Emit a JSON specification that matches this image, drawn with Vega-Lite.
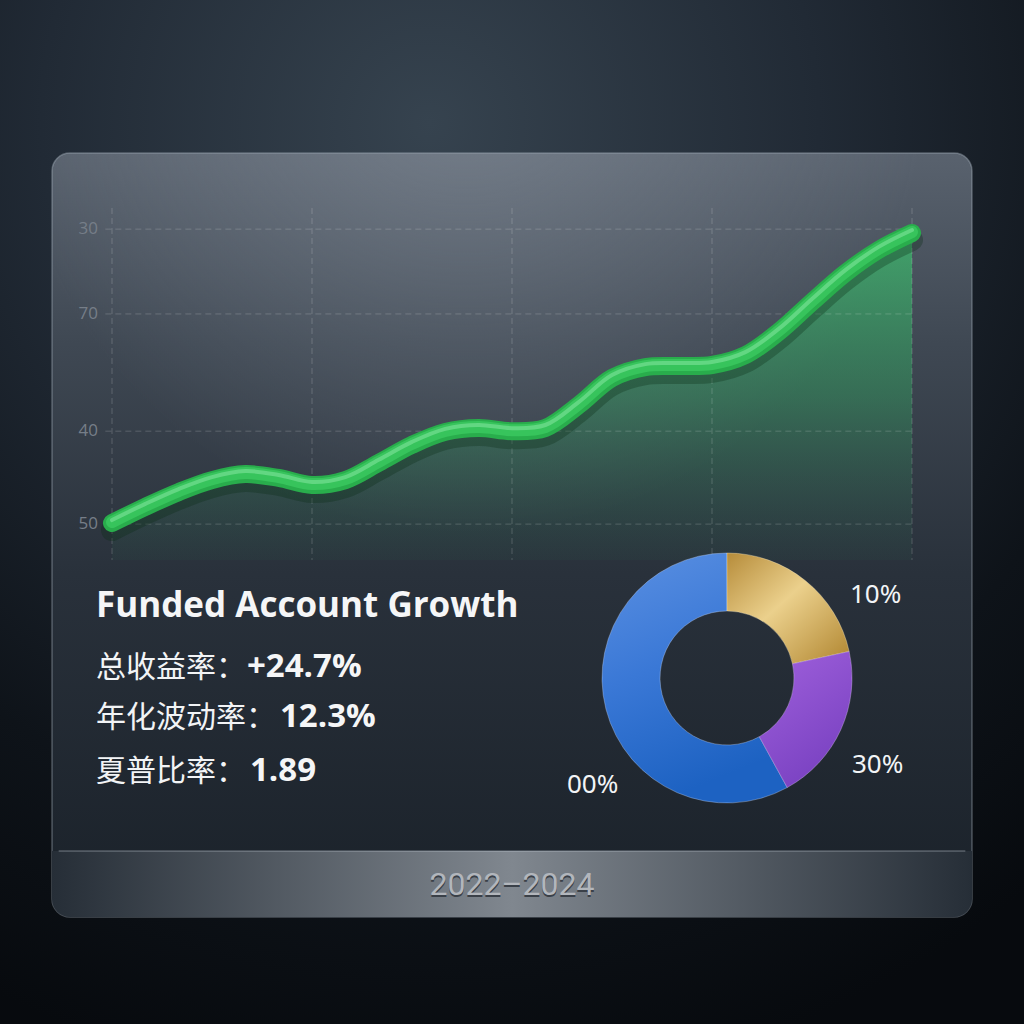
{
  "$schema": "https://vega.github.io/schema/vega-lite/v6.json",
  "width": 800,
  "height": 352,
  "autosize": {"type": "none"},
  "padding": {"left": 112, "top": 208, "right": 112, "bottom": 464},
  "background": "#0b1015",
  "config": {"view": {"stroke": null}},
  "datasets": {
    "growth": [
      {"month": 0, "value": 10.5}, {"month": 1, "value": 15.1}, {"month": 2, "value": 19.3},
      {"month": 3, "value": 22.7}, {"month": 4, "value": 24.4}, {"month": 5, "value": 23.3},
      {"month": 6, "value": 21.3}, {"month": 7, "value": 22.7}, {"month": 8, "value": 27.6},
      {"month": 9, "value": 32.7}, {"month": 10, "value": 36.4}, {"month": 11, "value": 37.5},
      {"month": 12, "value": 36.6}, {"month": 13, "value": 37.5}, {"month": 14, "value": 44.0},
      {"month": 15, "value": 51.7}, {"month": 16, "value": 54.8}, {"month": 17, "value": 55.1},
      {"month": 18, "value": 55.4}, {"month": 19, "value": 58.2}, {"month": 20, "value": 64.8},
      {"month": 21, "value": 73.3}, {"month": 22, "value": 81.5}, {"month": 23, "value": 88.1},
      {"month": 24, "value": 92.9}
    ],
    "donut": [
      {"seg": "gold", "from": 0, "to": 21.6, "label": "10%"},
      {"seg": "purple", "from": 21.6, "to": 42, "label": "30%"},
      {"seg": "blue", "from": 42, "to": 100, "label": "00%"}
    ],
    "texts": [
      {"key": "title", "text": "Funded Account Growth"},
      {"key": "l1", "text": "总收益率："},
      {"key": "v1", "text": "+24.7%"},
      {"key": "l2", "text": "年化波动率："},
      {"key": "v2", "text": "12.3%"},
      {"key": "l3", "text": "夏普比率："},
      {"key": "v3", "text": "1.89"},
      {"key": "period", "text": "2022–2024"}
    ],
    "vgrid": [{"month": 0}, {"month": 6}, {"month": 12}, {"month": 18}, {"month": 24}],
    "hgrid": [{"value": 10.2, "label": "50"}, {"value": 36.6, "label": "40"}, {"value": 69.9, "label": "70"}, {"value": 94.0, "label": "30"}],
    "panel": [{"part": "panel"}]
  },
  "layer": [
    {
      "data": {"name": "panel"},
      "mark": {"type": "rect", "fill": {"gradient": "radial", "x1": 0.42, "y1": 0.12, "r1": 0, "x2": 0.42, "y2": 0.12, "r2": 0.95,
        "stops": [{"offset": 0, "color": "#36434f"}, {"offset": 0.4, "color": "#212a35"}, {"offset": 0.75, "color": "#0e1319"}, {"offset": 1, "color": "#070a0e"}]}},
      "encoding": {
        "x": {"datum": -3.36, "type": "quantitative", "scale": {"domain": [0, 24], "nice": false, "zero": false}, "axis": null},
        "x2": {"datum": 27.36},
        "y": {"datum": 159.1, "type": "quantitative", "scale": {"domain": [0, 100], "nice": false, "zero": false}, "axis": null},
        "y2": {"datum": -131.9}
      }
    },
    {
      "data": {"name": "panel"},
      "mark": {"type": "rect", "cornerRadius": 18, "stroke": "rgba(190,200,212,0.35)", "strokeWidth": 1.5,
        "fill": {"gradient": "linear", "x1": 0, "y1": 0, "x2": 0, "y2": 1,
        "stops": [{"offset": 0, "color": "#59626e"}, {"offset": 0.25, "color": "#3f4853"}, {"offset": 0.55, "color": "#29313b"}, {"offset": 1, "color": "#1a2129"}]}},
      "encoding": {
        "x": {"datum": -1.8, "type": "quantitative", "scale": {"domain": [0, 24], "nice": false, "zero": false}, "axis": null},
        "x2": {"datum": 25.8},
        "y": {"datum": 115.63, "type": "quantitative", "scale": {"domain": [0, 100], "nice": false, "zero": false}, "axis": null},
        "y2": {"datum": -101.42}
      }
    },
    {
      "data": {"name": "panel"},
      "mark": {"type": "rect", "cornerRadius": 18,
        "fill": {"gradient": "radial", "x1": 0.45, "y1": 0.0, "r1": 0, "x2": 0.45, "y2": 0.0, "r2": 0.5,
        "stops": [{"offset": 0, "color": "rgba(150,160,172,0.45)"}, {"offset": 1, "color": "rgba(150,160,172,0)"}]}},
      "encoding": {
        "x": {"datum": -1.8, "type": "quantitative", "scale": {"domain": [0, 24], "nice": false, "zero": false}, "axis": null},
        "x2": {"datum": 25.8},
        "y": {"datum": 115.63, "type": "quantitative", "scale": {"domain": [0, 100], "nice": false, "zero": false}, "axis": null},
        "y2": {"datum": -101.42}
      }
    },
    {
      "data": {"name": "panel"},
      "mark": {"type": "rect", "cornerRadiusBottomLeft": 18, "cornerRadiusBottomRight": 18,
        "fill": {"gradient": "linear", "x1": 0, "y1": 0, "x2": 1, "y2": 0,
        "stops": [{"offset": 0, "color": "#262e37"}, {"offset": 0.5, "color": "#80878f"}, {"offset": 1, "color": "#262e37"}]}},
      "encoding": {
        "x": {"datum": -1.8, "type": "quantitative", "scale": {"domain": [0, 24], "nice": false, "zero": false}, "axis": null},
        "x2": {"datum": 25.8},
        "y": {"datum": -82.67, "type": "quantitative", "scale": {"domain": [0, 100], "nice": false, "zero": false}, "axis": null},
        "y2": {"datum": -101.42}
      }
    },
    {
      "data": {"name": "panel"},
      "mark": {"type": "rule", "stroke": "rgba(220,228,236,0.3)", "strokeWidth": 1.5},
      "encoding": {
        "x": {"datum": -1.6, "type": "quantitative", "scale": {"domain": [0, 24], "nice": false, "zero": false}, "axis": null},
        "x2": {"datum": 25.6},
        "y": {"datum": -82.67, "type": "quantitative", "scale": {"domain": [0, 100], "nice": false, "zero": false}, "axis": null}
      }
    },
    {
      "data": {"name": "growth"},
      "mark": {"type": "area", "interpolate": "catmull-rom",
        "fill": {"gradient": "linear", "x1": 0, "y1": 0, "x2": 0, "y2": 1,
        "stops": [{"offset": 0, "color": "rgba(60,195,110,0.7)"}, {"offset": 0.5, "color": "rgba(50,160,95,0.45)"}, {"offset": 1, "color": "rgba(40,110,78,0.08)"}]}},
      "encoding": {
        "x": {"field": "month", "type": "quantitative", "scale": {"domain": [0, 24], "nice": false, "zero": false}, "axis": null},
        "y": {"field": "value", "type": "quantitative", "scale": {"domain": [0, 100], "nice": false, "zero": false}, "axis": null}
      }
    },
    {
      "data": {"name": "hgrid"},
      "mark": {"type": "rule", "stroke": "rgba(255,255,255,0.18)", "strokeWidth": 1, "strokeDash": [6, 4]},
      "encoding": {
        "x": {"datum": -0.2, "type": "quantitative", "scale": {"domain": [0, 24], "nice": false, "zero": false}, "axis": null},
        "x2": {"datum": 24},
        "y": {"field": "value", "type": "quantitative", "scale": {"domain": [0, 100], "nice": false, "zero": false}, "axis": null}
      }
    },
    {
      "data": {"name": "hgrid"},
      "mark": {"type": "text", "align": "right", "baseline": "middle", "font": "Open Sans", "fontSize": 17, "color": "#767e88"},
      "encoding": {
        "text": {"field": "label"},
        "x": {"datum": -0.42, "type": "quantitative", "scale": {"domain": [0, 24], "nice": false, "zero": false}, "axis": null},
        "y": {"field": "value", "type": "quantitative", "scale": {"domain": [0, 100], "nice": false, "zero": false}, "axis": null}
      }
    },
    {
      "data": {"name": "vgrid"},
      "mark": {"type": "rule", "stroke": "rgba(255,255,255,0.18)", "strokeWidth": 1, "strokeDash": [6, 4]},
      "encoding": {
        "x": {"field": "month", "type": "quantitative", "scale": {"domain": [0, 24], "nice": false, "zero": false}, "axis": null},
        "y": {"datum": 100, "type": "quantitative", "scale": {"domain": [0, 100], "nice": false, "zero": false}, "axis": null},
        "y2": {"datum": 0}
      }
    },
    {
      "data": {"name": "growth"},
      "mark": {"type": "line", "interpolate": "catmull-rom", "stroke": "#0a2a15", "strokeOpacity": 0.3, "strokeWidth": 22, "strokeCap": "round", "yOffset": 7},
      "encoding": {
        "x": {"field": "month", "type": "quantitative", "scale": {"domain": [0, 24], "nice": false, "zero": false}, "axis": null},
        "y": {"field": "value", "type": "quantitative", "scale": {"domain": [0, 100], "nice": false, "zero": false}, "axis": null}
      }
    },
    {
      "data": {"name": "growth"},
      "mark": {"type": "line", "interpolate": "catmull-rom", "stroke": "#29ad4c", "strokeWidth": 18, "strokeCap": "round"},
      "encoding": {
        "x": {"field": "month", "type": "quantitative", "scale": {"domain": [0, 24], "nice": false, "zero": false}, "axis": null},
        "y": {"field": "value", "type": "quantitative", "scale": {"domain": [0, 100], "nice": false, "zero": false}, "axis": null}
      }
    },
    {
      "data": {"name": "growth"},
      "mark": {"type": "line", "interpolate": "catmull-rom", "stroke": "#37c45c", "strokeWidth": 12, "strokeCap": "round", "yOffset": -1},
      "encoding": {
        "x": {"field": "month", "type": "quantitative", "scale": {"domain": [0, 24], "nice": false, "zero": false}, "axis": null},
        "y": {"field": "value", "type": "quantitative", "scale": {"domain": [0, 100], "nice": false, "zero": false}, "axis": null}
      }
    },
    {
      "data": {"name": "growth"},
      "mark": {"type": "line", "interpolate": "catmull-rom", "stroke": "#8eeaa8", "strokeOpacity": 0.5, "strokeWidth": 4, "strokeCap": "round", "yOffset": -3},
      "encoding": {
        "x": {"field": "month", "type": "quantitative", "scale": {"domain": [0, 24], "nice": false, "zero": false}, "axis": null},
        "y": {"field": "value", "type": "quantitative", "scale": {"domain": [0, 100], "nice": false, "zero": false}, "axis": null}
      }
    },
    {
      "data": {"name": "donut"},
      "transform": [{"filter": "datum.seg === 'blue'"}],
      "mark": {"type": "arc", "outerRadius": 125, "innerRadius": 67, "stroke": "rgba(200,220,255,0.35)", "strokeWidth": 1,
        "fill": {"gradient": "linear", "x1": 0, "y1": 0, "x2": 0.3, "y2": 1,
        "stops": [{"offset": 0, "color": "#5b90e2"}, {"offset": 0.5, "color": "#3a78d6"}, {"offset": 1, "color": "#1d62c2"}]}},
      "encoding": {
        "theta": {"field": "from", "type": "quantitative", "scale": {"domain": [0, 100], "range": [0, 6.283185]}},
        "theta2": {"field": "to"},
        "x": {"datum": 18.45, "type": "quantitative", "scale": {"domain": [0, 24], "nice": false, "zero": false}, "axis": null},
        "y": {"datum": -33.52, "type": "quantitative", "scale": {"domain": [0, 100], "nice": false, "zero": false}, "axis": null}
      }
    },
    {
      "data": {"name": "donut"},
      "transform": [{"filter": "datum.seg === 'gold'"}],
      "mark": {"type": "arc", "outerRadius": 125, "innerRadius": 67, "stroke": "rgba(255,240,200,0.35)", "strokeWidth": 1,
        "fill": {"gradient": "linear", "x1": 0, "y1": 0, "x2": 1, "y2": 1,
        "stops": [{"offset": 0, "color": "#b68c3a"}, {"offset": 0.45, "color": "#ebd08c"}, {"offset": 1, "color": "#b0852f"}]}},
      "encoding": {
        "theta": {"field": "from", "type": "quantitative", "scale": {"domain": [0, 100], "range": [0, 6.283185]}},
        "theta2": {"field": "to"},
        "x": {"datum": 18.45, "type": "quantitative", "scale": {"domain": [0, 24], "nice": false, "zero": false}, "axis": null},
        "y": {"datum": -33.52, "type": "quantitative", "scale": {"domain": [0, 100], "nice": false, "zero": false}, "axis": null}
      }
    },
    {
      "data": {"name": "donut"},
      "transform": [{"filter": "datum.seg === 'purple'"}],
      "mark": {"type": "arc", "outerRadius": 125, "innerRadius": 67, "stroke": "rgba(230,200,255,0.35)", "strokeWidth": 1,
        "fill": {"gradient": "linear", "x1": 0, "y1": 0, "x2": 0.5, "y2": 1,
        "stops": [{"offset": 0, "color": "#a061dc"}, {"offset": 1, "color": "#7a42c2"}]}},
      "encoding": {
        "theta": {"field": "from", "type": "quantitative", "scale": {"domain": [0, 100], "range": [0, 6.283185]}},
        "theta2": {"field": "to"},
        "x": {"datum": 18.45, "type": "quantitative", "scale": {"domain": [0, 24], "nice": false, "zero": false}, "axis": null},
        "y": {"datum": -33.52, "type": "quantitative", "scale": {"domain": [0, 100], "nice": false, "zero": false}, "axis": null}
      }
    },
    {
      "data": {"name": "donut"},
      "transform": [{"filter": "datum.seg === 'gold'"}],
      "mark": {"type": "text", "align": "left", "baseline": "alphabetic", "font": "Noto Sans", "fontSize": 26, "color": "#f2f4f6"},
      "encoding": {
        "text": {"field": "label"},
        "x": {"datum": 22.14, "type": "quantitative", "scale": {"domain": [0, 24], "nice": false, "zero": false}, "axis": null},
        "y": {"datum": -12.22, "type": "quantitative", "scale": {"domain": [0, 100], "nice": false, "zero": false}, "axis": null}
      }
    },
    {
      "data": {"name": "donut"},
      "transform": [{"filter": "datum.seg === 'purple'"}],
      "mark": {"type": "text", "align": "left", "baseline": "alphabetic", "font": "Noto Sans", "fontSize": 26, "color": "#f2f4f6"},
      "encoding": {
        "text": {"field": "label"},
        "x": {"datum": 22.2, "type": "quantitative", "scale": {"domain": [0, 24], "nice": false, "zero": false}, "axis": null},
        "y": {"datum": -60.5, "type": "quantitative", "scale": {"domain": [0, 100], "nice": false, "zero": false}, "axis": null}
      }
    },
    {
      "data": {"name": "donut"},
      "transform": [{"filter": "datum.seg === 'blue'"}],
      "mark": {"type": "text", "align": "left", "baseline": "alphabetic", "font": "Noto Sans", "fontSize": 26, "color": "#f2f4f6"},
      "encoding": {
        "text": {"field": "label"},
        "x": {"datum": 13.65, "type": "quantitative", "scale": {"domain": [0, 24], "nice": false, "zero": false}, "axis": null},
        "y": {"datum": -66.19, "type": "quantitative", "scale": {"domain": [0, 100], "nice": false, "zero": false}, "axis": null}
      }
    },
    {
      "data": {"name": "texts"},
      "transform": [{"filter": "datum.key === 'title'"}],
      "mark": {"type": "text", "align": "left", "baseline": "alphabetic", "font": "Open Sans", "fontWeight": "bold", "fontSize": 35, "color": "#f5f6f7"},
      "encoding": {
        "text": {"field": "text"},
        "x": {"datum": -0.48, "type": "quantitative", "scale": {"domain": [0, 24], "nice": false, "zero": false}, "axis": null},
        "y": {"datum": -16.19, "type": "quantitative", "scale": {"domain": [0, 100], "nice": false, "zero": false}, "axis": null}
      }
    },
    {
      "data": {"name": "texts"},
      "transform": [{"filter": "datum.key === 'l1'"}],
      "mark": {"type": "text", "align": "left", "baseline": "alphabetic", "font": "Noto Sans CJK SC", "fontSize": 30, "color": "#f2f4f6"},
      "encoding": {
        "text": {"field": "text"},
        "x": {"datum": -0.48, "type": "quantitative", "scale": {"domain": [0, 24], "nice": false, "zero": false}, "axis": null},
        "y": {"datum": -33.24, "type": "quantitative", "scale": {"domain": [0, 100], "nice": false, "zero": false}, "axis": null}
      }
    },
    {
      "data": {"name": "texts"},
      "transform": [{"filter": "datum.key === 'v1'"}],
      "mark": {"type": "text", "align": "left", "baseline": "alphabetic", "font": "Open Sans", "fontWeight": "bold", "fontSize": 33, "color": "#f5f6f7"},
      "encoding": {
        "text": {"field": "text"},
        "x": {"datum": 4.05, "type": "quantitative", "scale": {"domain": [0, 24], "nice": false, "zero": false}, "axis": null},
        "y": {"datum": -33.24, "type": "quantitative", "scale": {"domain": [0, 100], "nice": false, "zero": false}, "axis": null}
      }
    },
    {
      "data": {"name": "texts"},
      "transform": [{"filter": "datum.key === 'l2'"}],
      "mark": {"type": "text", "align": "left", "baseline": "alphabetic", "font": "Noto Sans CJK SC", "fontSize": 30, "color": "#f2f4f6"},
      "encoding": {
        "text": {"field": "text"},
        "x": {"datum": -0.48, "type": "quantitative", "scale": {"domain": [0, 24], "nice": false, "zero": false}, "axis": null},
        "y": {"datum": -47.44, "type": "quantitative", "scale": {"domain": [0, 100], "nice": false, "zero": false}, "axis": null}
      }
    },
    {
      "data": {"name": "texts"},
      "transform": [{"filter": "datum.key === 'v2'"}],
      "mark": {"type": "text", "align": "left", "baseline": "alphabetic", "font": "Open Sans", "fontWeight": "bold", "fontSize": 33, "color": "#f5f6f7"},
      "encoding": {
        "text": {"field": "text"},
        "x": {"datum": 5.04, "type": "quantitative", "scale": {"domain": [0, 24], "nice": false, "zero": false}, "axis": null},
        "y": {"datum": -47.44, "type": "quantitative", "scale": {"domain": [0, 100], "nice": false, "zero": false}, "axis": null}
      }
    },
    {
      "data": {"name": "texts"},
      "transform": [{"filter": "datum.key === 'l3'"}],
      "mark": {"type": "text", "align": "left", "baseline": "alphabetic", "font": "Noto Sans CJK SC", "fontSize": 30, "color": "#f2f4f6"},
      "encoding": {
        "text": {"field": "text"},
        "x": {"datum": -0.48, "type": "quantitative", "scale": {"domain": [0, 24], "nice": false, "zero": false}, "axis": null},
        "y": {"datum": -62.78, "type": "quantitative", "scale": {"domain": [0, 100], "nice": false, "zero": false}, "axis": null}
      }
    },
    {
      "data": {"name": "texts"},
      "transform": [{"filter": "datum.key === 'v3'"}],
      "mark": {"type": "text", "align": "left", "baseline": "alphabetic", "font": "Open Sans", "fontWeight": "bold", "fontSize": 33, "color": "#f5f6f7"},
      "encoding": {
        "text": {"field": "text"},
        "x": {"datum": 4.14, "type": "quantitative", "scale": {"domain": [0, 24], "nice": false, "zero": false}, "axis": null},
        "y": {"datum": -62.78, "type": "quantitative", "scale": {"domain": [0, 100], "nice": false, "zero": false}, "axis": null}
      }
    },
    {
      "data": {"name": "texts"},
      "transform": [{"filter": "datum.key === 'period'"}],
      "mark": {"type": "text", "align": "center", "baseline": "alphabetic", "font": "Roboto", "fontSize": 32, "color": "#3a4048", "yOffset": 2},
      "encoding": {
        "text": {"field": "text"},
        "x": {"datum": 12, "type": "quantitative", "scale": {"domain": [0, 24], "nice": false, "zero": false}, "axis": null},
        "y": {"datum": -95.17, "type": "quantitative", "scale": {"domain": [0, 100], "nice": false, "zero": false}, "axis": null}
      }
    },
    {
      "data": {"name": "texts"},
      "transform": [{"filter": "datum.key === 'period'"}],
      "mark": {"type": "text", "align": "center", "baseline": "alphabetic", "font": "Roboto", "fontSize": 32, "color": "#b2b6bc"},
      "encoding": {
        "text": {"field": "text"},
        "x": {"datum": 12, "type": "quantitative", "scale": {"domain": [0, 24], "nice": false, "zero": false}, "axis": null},
        "y": {"datum": -95.17, "type": "quantitative", "scale": {"domain": [0, 100], "nice": false, "zero": false}, "axis": null}
      }
    }
  ]
}
